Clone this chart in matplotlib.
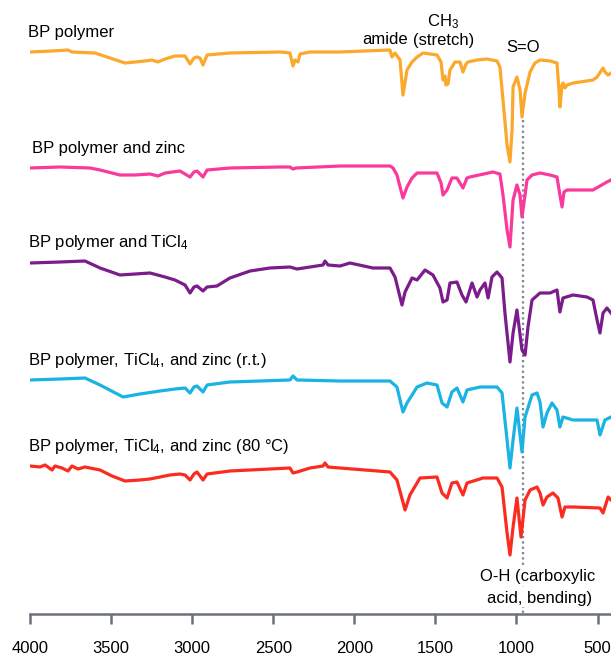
import numpy as np
import matplotlib.pyplot as plt

plt.rcParams['font.family'] = ['Liberation Sans', 'DejaVu Sans']
plt.rcParams['mathtext.fontset'] = 'custom'
plt.rcParams['mathtext.rm'] = 'Liberation Sans'
plt.rcParams['mathtext.it'] = 'Liberation Sans'

# wavenumber (cm-1) and relative transmittance (baseline = 0)
wn_bp = [4000, 3864, 3766, 3741, 3599, 3507, 3414, 3352, 3291, 3248, 3211, 3167, 3106, 3044,
         3013, 2989, 2970, 2952, 2933, 2908, 2767, 2458, 2397, 2378, 2366, 2347, 2335, 2273,
         2088, 1780, 1768, 1749, 1718, 1700, 1675, 1644, 1613, 1576, 1490, 1465, 1453, 1441,
         1435, 1422, 1410, 1398, 1379, 1348, 1330, 1311, 1299, 1243, 1182, 1120, 1102, 1083,
         1058, 1040, 1027, 1021, 997, 978, 966, 947, 916, 886, 855, 793, 750, 738, 732, 719,
         713, 701, 688, 651, 608, 528, 503, 466, 454, 435, 417]
t_bp = [0, 1, 2, 0, -1, -6, -11, -10, -9, -8, -10, -7, -4, -4,
        -12, -6, -5, -6, -13, -3, -1, 0, -1, -14, -8, -10, -2, 0,
        0, 2, -5, -1, -8, -43, -18, -10, -5, -1, -3, -10, -28, -24,
        -33, -32, -18, -15, -10, -10, -20, -12, -10, -8, -7, -9, -15, -48,
        -93, -110, -78, -35, -25, -38, -65, -41, -20, -11, -8, -9, -11, -38, -55, -33,
        -31, -36, -33, -31, -30, -28, -25, -16, -20, -23, -21]

wn_zn = [4000, 3815, 3630, 3568, 3445, 3352, 3260, 3211, 3167, 3075, 3013, 2989, 2970, 2933,
         2908, 2767, 2458, 2397, 2378, 2360, 2088, 1780, 1761, 1737, 1700, 1675, 1644, 1613,
         1490, 1465, 1453, 1428, 1398, 1367, 1330, 1305, 1287, 1145, 1102, 1083, 1058, 1040,
         1021, 997, 978, 966, 947, 935, 904, 855, 793, 750, 732, 719, 707, 688, 608, 528,
         485, 442, 417]
t_zn = [0, 1, 0, -2, -7, -7, -6, -8, -5, -3, -9, -4, -3, -9,
        -2, 0, 1, 1, -1, 0, 2, 2, 0, -7, -30, -19, -10, -5,
        -5, -15, -27, -22, -10, -10, -20, -10, -9, -4, -6, -27, -62, -79,
        -32, -17, -27, -49, -27, -12, -7, -5, -7, -9, -27, -39, -24, -22, -22, -22,
        -18, -14, -12]

wn_ti = [4000, 3815, 3661, 3568, 3445, 3352, 3260, 3167, 3106, 3044, 3013, 2989, 2970, 2933,
         2908, 2847, 2767, 2643, 2520, 2397, 2353, 2273, 2193, 2181, 2162, 2088, 2027, 1885,
         1780, 1749, 1706, 1687, 1644, 1613, 1564, 1515, 1472, 1453, 1428, 1410, 1367, 1336,
         1311, 1274, 1243, 1225, 1194, 1175, 1151, 1120, 1089, 1071, 1040, 1021, 997, 966,
         947, 929, 904, 855, 793, 750, 732, 713, 651, 565, 528, 503, 485, 466, 442, 417]
t_ti = [0, 1, 2, -5, -12, -11, -10, -14, -17, -22, -30, -24, -23, -28,
        -24, -23, -15, -8, -5, -4, -6, -4, -2, 2, -2, -3, 0, -5,
        -5, -14, -42, -29, -15, -17, -7, -12, -25, -39, -37, -20, -19, -32,
        -39, -20, -34, -27, -20, -35, -14, -9, -15, -50, -99, -70, -47, -87,
        -92, -64, -37, -30, -30, -27, -49, -35, -32, -34, -37, -57, -70, -50, -45, -50]

wn_rt = [4000, 3815, 3661, 3568, 3426, 3322, 3198, 3106, 3044, 3013, 2989, 2970, 2933, 2908,
         2767, 2397, 2378, 2353, 2088, 1780, 1737, 1700, 1675, 1613, 1552, 1490, 1459, 1428,
         1398, 1367, 1330, 1305, 1225, 1120, 1089, 1058, 1040, 1021, 997, 966, 947, 904,
         873, 855, 836, 812, 781, 750, 732, 713, 651, 503, 485, 454, 417]
t_rt = [0, 1, 2, -5, -17, -14, -11, -9, -8, -13, -7, -6, -12, -5,
        -2, 0, 4, 0, -1, -1, -7, -32, -23, -7, -3, -5, -23, -27,
        -12, -8, -22, -10, -7, -7, -13, -60, -88, -60, -28, -72, -37, -15,
        -13, -22, -47, -33, -23, -30, -47, -37, -40, -40, -55, -40, -37]

wn_80 = [4000, 3938, 3907, 3864, 3846, 3803, 3766, 3741, 3704, 3661, 3630, 3568, 3494, 3414,
         3322, 3260, 3198, 3137, 3075, 3044, 3013, 2989, 2970, 2933, 2908, 2767, 2520, 2397,
         2378, 2353, 2273, 2193, 2181, 2162, 2088, 1780, 1737, 1687, 1657, 1595, 1490, 1459,
         1428, 1398, 1367, 1330, 1305, 1206, 1120, 1089, 1058, 1040, 1021, 997, 972, 947,
         916, 873, 855, 836, 812, 775, 744, 719, 701, 651, 485, 466, 435, 417]
t_80 = [1, 0, 2, -3, 1, -1, -4, 1, -2, 0, -1, -3, -9, -14,
        -13, -12, -10, -8, -7, -8, -13, -7, -5, -13, -7, -4, -2, -1,
        -6, -5, -1, 1, 4, 0, -1, -5, -13, -43, -28, -11, -10, -26,
        -31, -16, -15, -28, -16, -11, -11, -20, -66, -88, -60, -31, -70, -33,
        -23, -20, -26, -38, -30, -26, -31, -50, -40, -40, -41, -46, -30, -33]

labels = ['BP polymer', 'BP polymer and zinc', 'BP polymer and TiCl$_4$',
          'BP polymer, TiCl$_4$, and zinc (r.t.)', 'BP polymer, TiCl$_4$, and zinc (80 °C)']
offsets = [-52, -168, -263, -380, -467]
colors = ['#FBA82C', '#F9399B', '#7B1C8B', '#1AB3E3', '#FC2B1F']
spectra = [(wn_bp, t_bp), (wn_zn, t_zn), (wn_ti, t_ti), (wn_rt, t_rt), (wn_80, t_80)]
label_x = [4010, 3985, 4010, 4010, 4010]
so_oh_wn = 960

fig = plt.figure(figsize=(6.11, 6.57), dpi=100)
ax = fig.add_axes([30 / 611, 43 / 657, 581 / 611, 614 / 657])

for (w, t), off, c, lab, lx in zip(spectra, offsets, colors, labels, label_x):
    ax.plot(w, np.array(t) + off, color=c, lw=2.3, solid_joinstyle='round')
    ax.text(lx, off + 20, lab, fontsize=12, ha='left', va='center')

ax.plot([so_oh_wn, so_oh_wn], [-120, -614], color='#7d8595', lw=1.6,
        linestyle=(0, (1, 1.4)), zorder=1)

ax.text(1811, -40, 'amide', fontsize=12, ha='center', va='center')
ax.text(1453, -22, 'CH$_3$', fontsize=12, ha='center', va='center')
ax.text(1447, -40, '(stretch)', fontsize=12, ha='center', va='center')
ax.text(962, -47, 'S=O', fontsize=12, ha='center', va='center')
ax.text(870, -577, 'O-H (carboxylic', fontsize=12, ha='center', va='center',
        bbox=dict(facecolor='white', edgecolor='none', pad=1))
ax.text(860, -598, 'acid, bending)', fontsize=12, ha='center', va='center',
        bbox=dict(facecolor='white', edgecolor='none', pad=1))

ax.set_xlim(4000, 417)
ax.set_ylim(-614, 0)
for s in ['top', 'right', 'left']:
    ax.spines[s].set_visible(False)
ax.spines['bottom'].set_color('#6b7079')
ax.spines['bottom'].set_linewidth(1.8)
ax.set_yticks([])
ax.set_xticks([4000, 3500, 3000, 2500, 2000, 1500, 1000, 500])
ax.tick_params(axis='x', direction='out', length=7.5, width=1.8, color='#6b7079',
               labelsize=12, pad=12)

fig.savefig('out.png', dpi=100)
